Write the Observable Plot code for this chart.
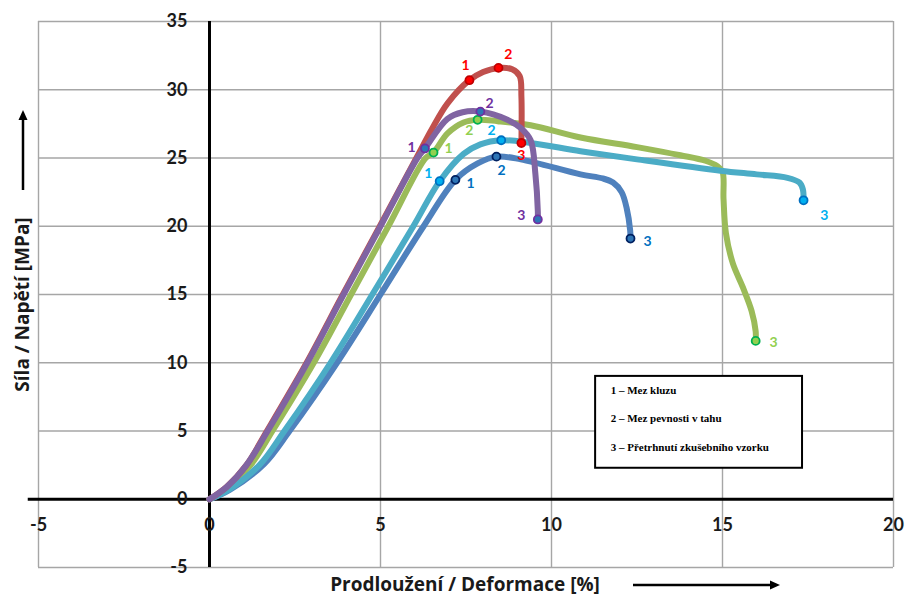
<!DOCTYPE html>
<html>
<head>
<meta charset="utf-8">
<script src="https://cdn.jsdelivr.net/npm/d3@7"></script>
<script src="https://cdn.jsdelivr.net/npm/@observablehq/plot@0.6"></script>
<style>
  body { margin: 0; background: #fff; }
  #chart { width: 909px; height: 596px; }
</style>
</head>
<body>
<div id="chart"></div>
<script>
// ---- Data ----
const xTicks = [-5, 0, 5, 10, 15, 20];
const yTicks = [-5, 0, 5, 10, 15, 20, 25, 30, 35];

const red = [[0,0],[0.5,0.9],[1.08,2.5],[1.68,5],[2.84,10],[3.9,15],[4.98,20],[6.05,25],[6.5,27.1],[6.96,29],[7.6,30.7],[8.0,31.3],[8.45,31.6],[8.85,31.5],[9.07,31.0],[9.12,29.5],[9.12,26.1]];
const purple = [[0,0],[0.5,0.9],[1.08,2.5],[1.7,5],[2.86,10],[3.92,15],[5.0,20],[6.08,25],[6.3,25.7],[6.95,27.85],[7.4,28.35],[7.92,28.4],[8.71,27.8],[9.1,27.2],[9.39,26.3],[9.53,23.8],[9.6,21.1],[9.6,20.5]];
const green = [[0,0],[0.5,0.8],[1.2,2.5],[1.84,5],[3.05,10],[4.14,15],[5.23,20],[6.32,25],[6.55,25.4],[6.96,26.8],[7.43,27.6],[7.84,27.8],[8.42,27.7],[9.39,27.4],[10.85,26.5],[12.5,25.8],[13.77,25.2],[14.5,24.8],[14.85,24.4],[15.0,24.0],[15.03,22],[15.1,19.5],[15.3,17.3],[15.6,15.5],[15.85,13.8],[15.97,12.3],[15.97,11.6]];
const cyan = [[0,0],[0.5,0.6],[1.46,2.5],[2.19,5],[3.54,10],[4.76,15],[5.96,20],[6.73,23.3],[7.43,25.3],[7.92,26.0],[8.53,26.3],[9.39,26.1],[10.85,25.5],[12.5,24.9],[14.94,24.07],[16.0,23.8],[16.9,23.55],[17.25,23.2],[17.35,22.7],[17.37,21.9]];
const blue = [[0,0],[0.6,0.7],[1.6,2.6],[2.34,5],[3.73,10],[5.0,15],[6.26,20],[7.19,23.4],[7.84,24.6],[8.39,25.1],[9.1,24.9],[10.85,23.8],[11.5,23.5],[11.8,23.2],[12.05,22.5],[12.2,21.3],[12.3,19.7],[12.31,19.1]];

// key points 1, 2, 3 of each specimen
const redPoints = [[7.6,30.7],[8.45,31.6],[9.12,26.1]];
const purplePoints = [[6.3,25.7],[7.92,28.4],[9.6,20.5]];
const greenPoints = [[6.55,25.4],[7.84,27.8],[15.97,11.6]];
const cyanPoints = [[6.73,23.3],[8.53,26.3],[17.37,21.9]];
const bluePoints = [[7.19,23.4],[8.39,25.1],[12.31,19.1]];

// number labels next to key points
const redLabels = [[7.49,31.8],[8.74,32.6],[9.12,25.2]];
const purpleLabels = [[5.91,25.8],[8.19,29.0],[9.12,20.8]];
const greenLabels = [[6.99,25.7],[7.6,27.0],[16.49,11.5]];
const cyanLabels = [[6.4,23.85],[8.25,27.0],[17.98,20.8]];
const blueLabels = [[7.63,23.1],[8.54,24.1],[12.81,18.9]];
const labelTexts = ["1", "2", "3"];

const legendLines = ["1 – Mez kluzu", "2 – Mez pevnosti v tahu", "3 – Přetrhnutí zkušebního vzorku"];
const legendBox = {x1: 11.29, x2: 17.34, y1: 2.27, y2: 9.0};
const legendTextX = 11.73;
const legendTextY = [7.97, 5.93, 3.8];

const xTitle = "Prodloužení / Deformace [%]";
const yTitle = "Síla / Napětí [MPa]";

// ---- Styles ----
const specs = [
  {pts: green,  key: greenPoints,  lab: greenLabels,  line: "#9bbb59", fill: "#92d050", ring: "#00b050", text: "#92d050"},
  {pts: blue,   key: bluePoints,   lab: blueLabels,   line: "#4f81bd", fill: "#2e75b6", ring: "#002060", text: "#0070c0"},
  {pts: cyan,   key: cyanPoints,   lab: cyanLabels,   line: "#4bacc6", fill: "#00b0f0", ring: "#0070c0", text: "#00b0f0"},
  {pts: red,    key: redPoints,    lab: redLabels,    line: "#c0504d", fill: "#ff0000", ring: "#c00000", text: "#ff0000"},
  {pts: purple, key: purplePoints, lab: purpleLabels, line: "#8064a2", fill: "#2e75b6", ring: "#7030a0", text: "#7030a0"}
];

const marks = [
  Plot.gridX(xTicks.filter(d => d !== 0), {stroke: "#a6a6a6", strokeOpacity: 1, strokeWidth: 1.4}),
  Plot.gridY(yTicks.filter(d => d !== 0), {stroke: "#a6a6a6", strokeOpacity: 1, strokeWidth: 1.4}),
  Plot.ruleX([0], {y1: -5, y2: 35, stroke: "#000", strokeWidth: 3}),
  Plot.ruleY([0], {x1: -5.3, x2: 20, stroke: "#000", strokeWidth: 3}),
  Plot.text(yTicks, {x: 0, y: d => d, text: d => String(d), dx: -22, textAnchor: "end", fontSize: 18, fontWeight: "bold", fill: "#1a1a1a"}),
  Plot.text(xTicks, {x: d => d, y: 0, text: d => String(d), dy: 26, fontSize: 18, fontWeight: "bold", fill: "#1a1a1a"}),
  // legend box
  Plot.rect([legendBox], {x1: "x1", x2: "x2", y1: "y1", y2: "y2", fill: "#fff", stroke: "#000", strokeWidth: 2}),
  Plot.text(legendLines, {x: legendTextX, y: (d, i) => legendTextY[i], text: d => d, textAnchor: "start",
    fontFamily: "Liberation Serif", fontWeight: "bold", fontSize: 11, fill: "#000"})
];

for (const s of specs) {
  marks.push(Plot.line(s.pts, {x: d => d[0], y: d => d[1], stroke: s.line, strokeWidth: 6, curve: "catmull-rom", strokeLinecap: "round", strokeLinejoin: "round"}));
}
for (const s of specs) {
  marks.push(Plot.dot(s.key, {x: d => d[0], y: d => d[1], r: 4, fill: s.fill, stroke: s.ring, strokeWidth: 1.8}));
  marks.push(Plot.text(s.lab, {x: d => d[0], y: d => d[1], text: (d, i) => labelTexts[i], fill: s.text, fontSize: 14, fontWeight: "bold"}));
}

// axis titles
marks.push(Plot.text([yTitle], {frameAnchor: "left", textAnchor: "middle", lineAnchor: "middle", text: d => d, rotate: -90, dx: -16, dy: 10,
  fontFamily: "'Open Sans', sans-serif", fontSize: 19, fontWeight: "bold", fill: "#1a1a1a"}));
marks.push(Plot.text([xTitle], {frameAnchor: "bottom", textAnchor: "middle", lineAnchor: "middle", text: d => d, dx: -1, dy: 17,
  fontFamily: "'Open Sans', sans-serif", fontSize: 19, fontWeight: "bold", fill: "#1a1a1a"}));

const chart = Plot.plot({
  width: 909,
  height: 596,
  marginLeft: 38,
  marginRight: 16,
  marginTop: 21,
  marginBottom: 29,
  x: {domain: [-5, 20], axis: null},
  y: {domain: [-5, 35], axis: null},
  style: {fontFamily: "Lato, 'Open Sans', sans-serif", background: "#fff", overflow: "visible"},
  marks
});

// arrows next to the axis titles
const svg = d3.select(chart);
const g = svg.append("g").attr("fill", "#000").attr("stroke", "#000");
g.append("line").attr("x1", 23).attr("x2", 23).attr("y1", 190).attr("y2", 118).attr("stroke-width", 2.5);
g.append("path").attr("d", "M23,110 L18.5,120 L27.5,120 Z").attr("stroke", "none");
g.append("line").attr("x1", 633).attr("x2", 771).attr("y1", 585).attr("y2", 585).attr("stroke-width", 2.5);
g.append("path").attr("d", "M780,585 L770,580.5 L770,589.5 Z").attr("stroke", "none");

document.getElementById("chart").appendChild(chart);
</script>
</body>
</html>
